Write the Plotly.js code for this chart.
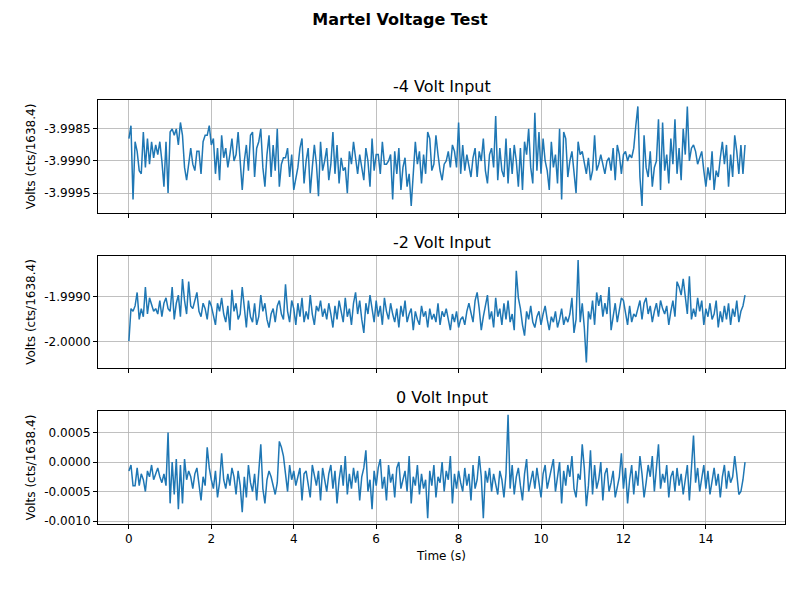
<!DOCTYPE html>
<html>
<head>
<meta charset="utf-8">
<script src="https://cdn.plot.ly/plotly-3.1.0.min.js"></script>
<style>body{margin:0}#chart{width:800px;height:600px}</style>
</head>
<body>
<div id="chart"></div>
<script>
// samples every 0.05 s (offset units, see scale/base below)
const dt = 0.05

// -4 V panel: offsets from -3.9989 in units of 5e-5 V
const base4 = -3.9989, scale4 = 5e-5
const minus4 = [
	5, 9, -14, 4, 1, -5, -6, 7, -4, 5, -3, 4, -1, 3, 0, 4, -2, -10, 4, -12,
	7, 8, 6, 8, 3, 10, 6, -4, -8, -2, 2, -3, -5, 1, 1, -6, 4, 6, 6, 9,
	3, 5, -6, 2, -8, 6, -1, 2, -4, 0, 5, -2, 0, 7, -3, -11, -2, 3, -5, 6,
	7, -7, 2, 4, 8, -4, -10, 0, 6, -7, 3, -5, 8, -10, -3, -1, -1, 2, -7, 0,
	-11, -8, -4, 2, 5, -9, -2, 2, -12, -4, 3, -3, -13, 4, -5, -2, 2, -8, -3, 7,
	-6, 3, -9, -1, -5, -4, -12, 1, -3, 4, -2, -6, 0, -4, -8, 2, -2, -10, 5, -5,
	0, 0, -6, 4, -3, -3, -2, 0, -14, 1, -6, 2, -11, -4, -1, -10, -6, -16, -5, 4,
	-3, 1, -9, 0, -6, 7, 5, -5, -3, 6, 0, -5, -8, -3, -2, 1, -4, 3, 1, -4,
	10, -6, 3, -5, 0, -3, -7, -1, 2, -7, 1, -2, 5, -5, -9, 0, 2, -4, 12, -8,
	2, -5, -7, 5, -9, 2, -6, 3, -2, -10, 2, -11, 4, 0, 8, -4, -9, 13, -5, 7,
	-6, 5, -2, -5, -11, 4, -4, 0, -9, 8, -14, 7, 5, -7, -2, 1, -5, -12, 4, 0,
	1, -3, -6, -1, -8, -5, 6, -5, -3, 0, -3, -6, -2, -1, -5, 2, -8, 3, 0, -6,
	0, 1, -2, 0, -1, 2, 9, 15, -7, -16, 6, -4, -7, 1, -10, -4, -2, 11, -11, 10,
	-5, 0, -9, 5, -3, 11, -6, 2, -8, 8, 0, 15, -2, 2, 3, 1, -3, -1, 1, -5,
	-10, -4, -8, 1, -11, -5, -7, -1, 4, -3, 3, -10, 0, -7, 6, 1, -6, 3, -6, 3
]

// -2 V panel: offsets from -1.9989 in units of 6e-5 V
const base2 = -1.9989, scale2 = 6e-5
const minus2 = [
	-18, -6, -7, -5, 0, -10, -6, -9, 2, -8, -2, -5, -7, -6, -8, -3, -9, -4, -2, -6,
	-7, 2, -10, -4, -1, -9, 5, -3, -8, 4, -5, -6, -3, 0, -7, -9, -4, -6, -10, -3,
	-5, -9, -12, -4, -7, -2, -8, -11, -5, -14, 1, -7, -4, -10, -8, 2, -6, -13, -3, -9,
	-11, -4, -12, -9, -1, -7, -4, -10, -13, -8, -6, -11, -5, -3, -8, -10, 3, -7, -11, -3,
	-6, -12, -4, -9, -2, -11, -7, -10, -1, -8, -12, -5, -7, -3, -9, -6, -10, -4, -8, -13,
	-5, -10, -3, -7, -11, -2, -9, -6, -12, -4, 0, -8, -3, -10, -15, -4, -8, -1, -6, -11,
	-3, -9, -5, -12, -2, -7, -10, -4, -8, -11, -6, -13, -5, -9, -3, -11, -8, -6, -14, -7,
	-10, -12, -5, -9, -7, -13, -6, -10, -8, -11, -4, -12, -7, -9, -6, -10, -14, -8, -11, -7,
	-13, -10, -9, -12, -7, -4, -8, -11, -3, 0, -6, -14, -9, -5, -1, -10, -7, -13, -2, -9,
	-6, -12, -4, -10, -3, -11, -8, -14, 8, -2, -6, -12, -16, -7, -10, -5, -11, -13, -9, -7,
	-12, -8, -5, -10, -14, -9, -11, -7, -13, -10, -6, -12, -9, -11, -8, -2, -15, -10, 12, -11,
	-4, -13, -26, -7, -10, -3, -12, 0, -5, -1, -9, -4, -8, 2, -14, -9, -4, -11, -6, -2,
	-3, -7, -12, -5, -11, -8, -9, -6, -3, -10, -4, -2, -8, -5, -11, -7, -4, -9, -3, -6,
	-8, -5, -12, -7, -3, -9, 4, 2, -1, 5, -2, -8, 6, -10, -6, -9, -2, -7, -3, -12,
	-6, -9, -4, -10, -8, -3, -13, -7, -11, -5, -10, -4, -12, -6, -9, -3, -11, -7, -5, -1
]

// 0 V panel: values in units of 5e-5 V
const scale0 = 5e-5
const zero = [
	-3, -1, -8, -8, -2, -8, -4, -6, -10, -3, -5, -1, -6, -4, -2, -5, -7, -4, -8, 10,
	-14, 0, -11, 1, -16, -1, -14, 1, -6, -3, -5, -9, -4, -2, -8, -13, -5, -8, 5, -2,
	-6, -9, -3, -12, -7, 3, -6, -9, -4, -8, -2, -5, -11, -3, -8, -17, -5, -12, -1, -7,
	-10, -4, -13, -2, 6, -9, -14, -6, -3, -5, -8, -11, -7, 7, 5, 2, -4, -10, -1, -6,
	-3, -8, -5, -2, -13, -4, -3, -7, -12, -1, -5, -8, -3, -13, -2, -6, -10, -4, -1, -9,
	-3, -14, -6, -1, -8, 2, -11, -4, -9, -2, -7, -3, -13, -5, -2, 4, -10, -6, -16, -3,
	-8, -2, 1, -9, -5, -13, -1, -7, -4, -12, -2, 0, -9, -6, -3, -10, 2, -14, -5, -8,
	-1, -11, -4, -9, -6, -19, -3, -8, -1, -12, -5, -7, 0, -10, -3, -6, 2, -14, -4, -9,
	-3, -7, -10, -2, -8, -4, -13, -1, -9, -6, 2, -5, -19, -3, -7, -2, -10, -4, -8, -11,
	-3, -6, -12, -4, 16, -9, -1, -11, -5, -2, -8, -13, -4, 1, -10, -6, -3, -9, -2, -7,
	-12, -4, -1, -9, -6, -2, 1, -10, -5, 0, -14, -3, -8, -1, -5, 2, -9, -12, -4, -6,
	6, -2, -15, -8, 4, -11, -1, -9, -6, 0, -13, -4, -2, -10, -7, -3, -12, -8, -5, 3,
	-9, -2, -14, -6, -1, -11, -3, -8, 2, -4, -12, -7, -1, -5, 2, -10, -3, 6, -9, -4,
	-7, -1, -12, -5, -3, -10, -2, -8, -4, -11, -6, -1, -13, -3, 9, -7, -2, -10, -5, -1,
	-9, -3, -11, -6, -2, -8, -4, -12, -5, -1, -9, -3, -7, -5, 2, -4, -11, -10, -6, 0
]

// tick labels as matplotlib prints them (ascii hyphen)
const ticks4 = [-3.9995, -3.9990, -3.9985]
const ticks2 = [-2.0000, -1.9990]
const ticks0 = [-0.0010, -0.0005, 0.0000, 0.0005]

const time = minus4.map((_, i) => +(i * dt).toFixed(2))
const blue = '#1f77b4'
const font = { family: 'DejaVu Sans', size: 12, color: '#000' }

const trace = (vals, base, scale, ax) => ({
	x: time,
	y: vals.map(v => base + v * scale),
	xaxis: 'x' + ax, yaxis: 'y' + ax,
	type: 'scatter', mode: 'lines',
	line: { color: blue, width: 1.5 },
	showlegend: false
})

const xBase = {
	range: [-0.75, 15.92], dtick: 2, tick0: 0,
	showgrid: true, gridcolor: '#b0b0b0', gridwidth: 0.8,
	ticks: 'outside', ticklen: 4, tickcolor: '#000',
	showline: true, linecolor: '#000', mirror: true, zeroline: false,
	tickfont: font
}
const yBase = {
	showgrid: true, gridcolor: '#b0b0b0', gridwidth: 0.8,
	ticks: 'outside', ticklen: 4, tickcolor: '#000',
	showline: true, linecolor: '#000', mirror: true, zeroline: false,
	tickfont: font,
	title: { text: 'Volts (cts/1638.4)', font: font, standoff: 6 }
}
const tickSet = vals => ({
	tickmode: 'array', tickvals: vals,
	ticktext: vals.map(v => v.toFixed(4).replace('\u2212', '-'))
})

const subTitle = (text, y) => ({
	text, x: 0.5, y, xref: 'paper', yref: 'paper',
	xanchor: 'center', yanchor: 'bottom', showarrow: false,
	font: { family: 'DejaVu Sans', size: 16, color: '#000' }
})

const layout = {
	width: 800, height: 600,
	margin: { l: 98, r: 15, t: 100, b: 76 },
	paper_bgcolor: '#fff', plot_bgcolor: '#fff',
	font: font,
	title: { text: '<b>Martel Voltage Test</b>', x: 0.5, y: 0.967, yanchor: 'middle', font: { family: 'DejaVu Sans', size: 16, color: '#000' } },
	xaxis1: { ...xBase, anchor: 'y1', showticklabels: false },
	xaxis2: { ...xBase, anchor: 'y2', showticklabels: false },
	xaxis3: { ...xBase, anchor: 'y3', title: { text: 'Time (s)', font: font, standoff: 6 } },
	yaxis1: { ...yBase, ...tickSet(ticks4), anchor: 'x1', domain: [0.7335, 1], range: [-3.99981, -3.99805] },
	yaxis2: { ...yBase, ...tickSet(ticks2), anchor: 'x2', domain: [0.368, 0.632], range: [-2.00058, -1.99809] },
	yaxis3: { ...yBase, ...tickSet(ticks0), anchor: 'x3', domain: [0, 0.2665], range: [-0.00105, 0.000865] },
	annotations: [
		subTitle('-4 Volt Input', 1.005),
		subTitle('-2 Volt Input', 0.637),
		subTitle('0 Volt Input', 0.2715)
	]
}

Plotly.newPlot('chart', [
	trace(minus4, base4, scale4, 1),
	trace(minus2, base2, scale2, 2),
	trace(zero, 0, scale0, 3)
], layout, { staticPlot: true })
</script>
</body>
</html>
